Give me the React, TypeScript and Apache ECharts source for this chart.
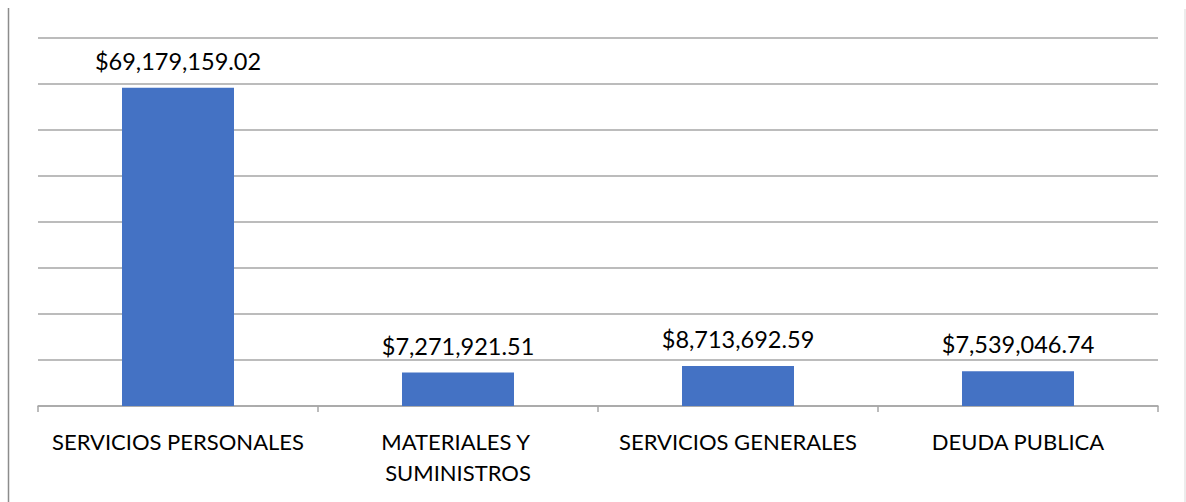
import React, { useEffect, useRef } from "react";
import * as echarts from "echarts";

const categories = ["SERVICIOS PERSONALES", "MATERIALES Y SUMINISTROS", "SERVICIOS GENERALES", "DEUDA PUBLICA"];
const values = [69179159.02, 7271921.51, 8713692.59, 7539046.74];

const fmt = (v: number) =>
  "$" + v.toLocaleString("en-US", { minimumFractionDigits: 2, maximumFractionDigits: 2 });

export default function App() {
  const ref = useRef<HTMLDivElement>(null);
  useEffect(() => {
    const chart = echarts.init(ref.current!, null, { renderer: "svg" });
    chart.setOption({
      animation: false,
      backgroundColor: "#ffffff",
      textStyle: { fontFamily: "Lato" },
      grid: { left: 38, right: 28, top: 38, bottom: 96 },
      xAxis: {
        type: "category",
        data: categories,
        axisLine: { lineStyle: { color: "#a6a6a6", width: 1.5 } },
        axisTick: { show: true, interval: 0, length: 6, lineStyle: { color: "#a6a6a6", width: 1.5 } },
        axisLabel: {
          interval: 0,
          color: "#000000",
          fontSize: 22,
          fontFamily: "Lato",
          margin: 20,
          lineHeight: 31,
          width: 272,
          overflow: "break",
        },
      },
      yAxis: {
        type: "value",
        min: 0,
        max: 80000000,
        interval: 10000000,
        axisLabel: { show: false },
        axisLine: { show: false },
        axisTick: { show: false },
        splitLine: { lineStyle: { color: "#a6a6a6", width: 1.5 } },
      },
      series: [
        {
          type: "bar",
          data: values,
          barWidth: 112,
          itemStyle: { color: "#4472C4" },
          label: {
            show: true,
            position: "top",
            distance: 15,
            color: "#000000",
            fontSize: 23.5,
            fontFamily: "Lato",
            formatter: (p: any) => fmt(p.value),
          },
        },
      ],
      graphic: [
        { type: "line", shape: { x1: 8.5, y1: 8, x2: 8.5, y2: 502 }, style: { stroke: "#8c8c8c", lineWidth: 1.5 } },
        { type: "line", shape: { x1: 1185, y1: 9, x2: 1185, y2: 502 }, style: { stroke: "#d9d9d9", lineWidth: 1 } },
      ],
    });
    return () => chart.dispose();
  }, []);
  return (
    <div
      ref={ref}
      style={{ position: "fixed", left: 0, top: 0, width: 1186, height: 502 }}
    />
  );
}
